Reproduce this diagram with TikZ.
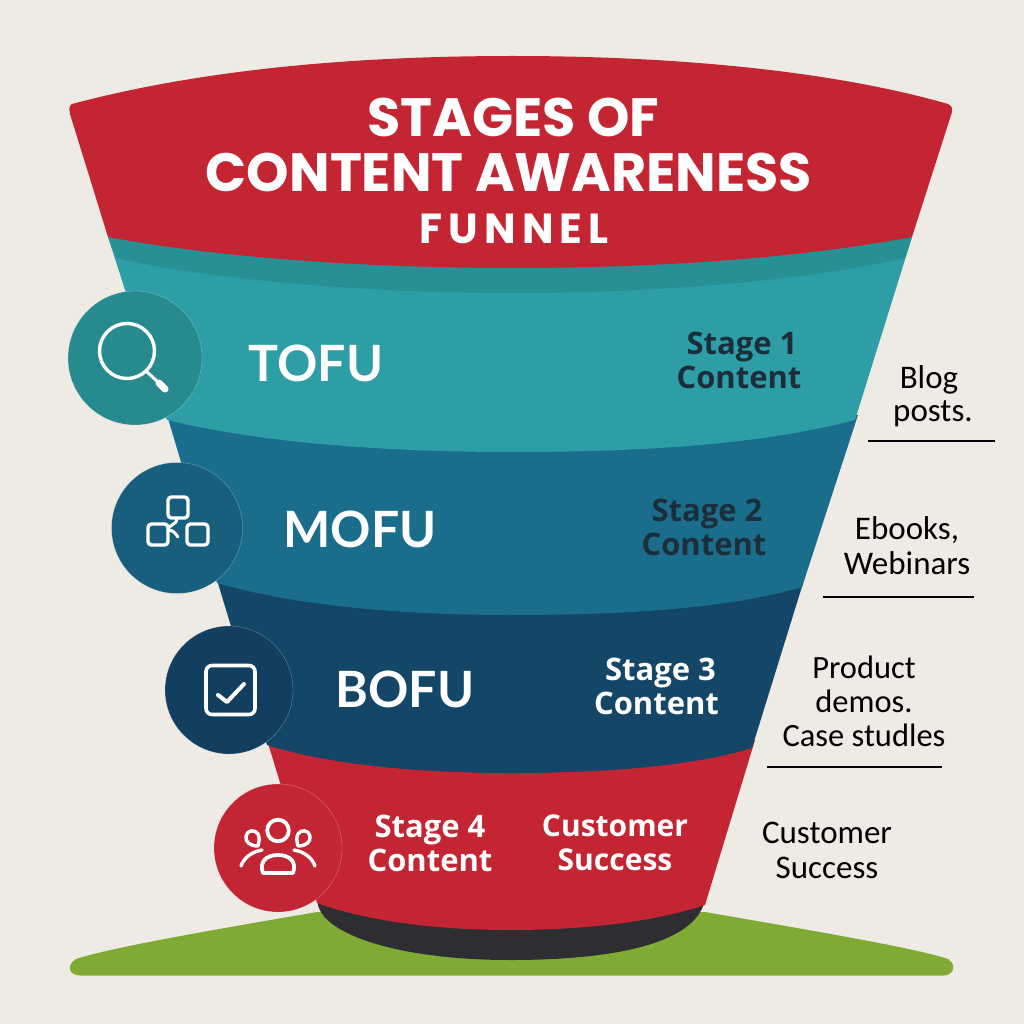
\documentclass[tikz,border=0pt]{standalone}
\usepackage{fontspec}
\setmainfont{Lato}
\newfontfamily\headfont{Lato}
\newfontfamily\titlefont{Poppins}
\newfontfamily\funnelfont[LetterSpace=15]{Poppins}
\newfontfamily\stagefont{Open Sans}
\newfontfamily\notefont{Carlito}
\definecolor{paper}{HTML}{EEEAE4}
\definecolor{redmain}{HTML}{C42533}
\definecolor{tealmain}{HTML}{2D9DA6}
\definecolor{tealdark}{HTML}{269094}
\definecolor{tealcirc}{HTML}{268A8F}
\definecolor{mofumain}{HTML}{1B6E8B}
\definecolor{mofucirc}{HTML}{185F7E}
\definecolor{bofumain}{HTML}{144767}
\definecolor{bofucirc}{HTML}{123E60}
\definecolor{redcirc}{HTML}{C22634}
\definecolor{basedark}{HTML}{2E2E32}
\definecolor{grass}{HTML}{7FAB35}
\definecolor{inktext}{HTML}{1B2E3A}
\tikzset{
  titletext/.style={text=white,align=center,inner sep=0pt},
  fofutext/.style={text=white,font=\headfont\bfseries\fontsize{50}{50}\selectfont,inner sep=0pt},
  stagetext/.style={font=\stagefont\bfseries\fontsize{31}{34}\selectfont,align=center,inner sep=0pt},
  notetext/.style={text=black,font=\notefont\fontsize{33}{35}\selectfont,align=center,inner sep=0pt},
  noterule/.style={draw=black,line width=1.4pt},
  badge/.style={circle,minimum size=#1,inner sep=0pt,draw=white,draw opacity=.35,line width=.4pt},
  icon/.style={draw=white,line width=3.4pt,line cap=round,line join=round},
}
\begin{document}
\begin{tikzpicture}[x=1pt,y=-1pt]
\useasboundingbox (0,0) rectangle (1024,1024);
\fill[paper] (0,0) rectangle (1024,1024);
% ground
\fill[grass] (80,975.5) .. controls (70,975.5) and (65,966) .. (76,959) .. controls (110,948) and (200,932) .. (317,912) -- (705,912) .. controls (820,932) and (915,948) .. (948,959) .. controls (958,966) and (952,975.5) .. (944,975.5) -- cycle;
% base and funnel layers, bottom up
\fill[basedark] (317,900) -- (318,905) .. controls (325,935) and (400,960) .. (510,960) .. controls (610,960) and (695,945) .. (705,900) -- cycle;
\fill[redmain] (267,740) -- (317,903) .. controls (370,922) and (440,930) .. (510,930) .. controls (580,930) and (650,923) .. (705,905) -- (755,740) -- cycle;
\fill[bofumain] (217,580) -- (267,745) .. controls (330,765) and (420,773) .. (510,773) .. controls (600,773) and (690,767) .. (752,748) -- (804,580) -- cycle;
\fill[mofumain] (167,415) -- (217,583) .. controls (300,607) and (410,615) .. (510,615) .. controls (630,615) and (730,608) .. (802,587) -- (858,415) -- cycle;
\fill[tealmain] (108,237) -- (167,420) .. controls (270,445) and (400,452) .. (513,452) .. controls (640,452) and (760,445) .. (855,420) -- (912,237) -- cycle;
\fill[tealdark] (108,237) -- (117,258) .. controls (210,280) and (370,293) .. (513,293) .. controls (660,293) and (810,280) .. (905,258) -- (912,237) -- cycle;
\fill[redmain] (72,104) .. controls (200,70) and (350,56) .. (513,56) .. controls (670,56) and (830,70) .. (948,104) .. controls (952,106) and (953,109) .. (952,112) -- (912,237) .. controls (800,258) and (660,268) .. (513,268) .. controls (370,268) and (220,258) .. (108,237) -- (70,114) .. controls (69,109) and (69,106) .. (72,104) -- cycle;
% badges
\node[badge=134pt,fill=tealcirc] (tofubadge) at (135,358) {};
\node[badge=131pt,fill=mofucirc] (mofubadge) at (177,528) {};
\node[badge=128pt,fill=bofucirc] (bofubadge) at (229,690) {};
\node[badge=128pt,fill=redcirc] (stagebadge) at (278,848) {};
% magnifier
\draw[icon] (127,351) circle (27.5);
\draw[icon,line width=3pt] (147,372) -- (158,382);
\draw[icon,line width=7pt] (159,383) -- (165,389);
% network
\draw[icon,rounded corners=3.5pt] (168,497) rectangle (188,518);
\draw[icon,rounded corners=3.5pt] (148,524) rectangle (168,545);
\draw[icon,rounded corners=3.5pt] (187,524) rectangle (208,545);
\draw[icon,line width=3pt] (177,518) -- (176,522) -- (168,528);
\draw[icon,line width=3pt] (168,530) .. controls (173,530) and (175,533) .. (178,537);
% check box
\draw[icon,line width=3.6pt,rounded corners=6pt] (206,665.5) rectangle (255,714.5);
\draw[icon,line width=4pt] (218,695) -- (227,702) -- (244,684);
% people
\draw[icon,line width=3.8pt] (278,830.5) circle (10.8);
\draw[icon,line width=3.8pt] (263,873) .. controls (259,862) and (266,855) .. (278,855) .. controls (290,855) and (297,862) .. (293,873) -- cycle;
\draw[icon] (258,846) .. controls (250,846) and (245,842) .. (246,836) .. controls (247,830) and (255,829) .. (258,834) .. controls (260,838) and (259,842) .. (258,846);
\draw[icon] (262,850) .. controls (251,852) and (244,858) .. (241,866);
\draw[icon] (298,846) .. controls (306,846) and (311,842) .. (310,836) .. controls (309,830) and (301,829) .. (298,834) .. controls (296,838) and (297,842) .. (298,846);
\draw[icon] (294,850) .. controls (305,852) and (312,858) .. (315,866);
% title
\node[titletext,font=\titlefont\bfseries\fontsize{54}{54}\selectfont] (title1) at (513.5,117) {STAGES OF};
\node[titletext,font=\titlefont\bfseries\fontsize{54}{54}\selectfont] (title2) at (509,172) {CONTENT AWARENESS};
\node[titletext,font=\funnelfont\bfseries\fontsize{42}{42}\selectfont] (title3) at (514,229) {FUNNEL};
% band names
\node[fofutext] (tofu) at (316,363) {TOFU};
\node[fofutext] (mofu) at (360,529) {MOFU};
\node[fofutext] (bofu) at (405,689) {BOFU};
% stage labels
\node[stagetext,text=inktext] (stage1) at (739,360) {\hspace*{6pt}Stage 1\\Content};
\node[stagetext,text=inktext] (stage2) at (704,527) {\hspace*{6pt}Stage 2\\Content};
\node[stagetext,text=white] (stage3) at (656.5,686) {\hspace*{8pt}Stage 3\\Content};
\node[stagetext,text=white] (stage4) at (430,843) {Stage 4\\Content};
\node[stagetext,text=white,font=\stagefont\bfseries\fontsize{30}{34}\selectfont] (success) at (615,843) {Customer\\Success};
% side notes
\node[notetext,font=\notefont\fontsize{33}{33}\selectfont] (note1) at (933,396.5) {Blog\hspace*{8pt}\\posts.};
\node[notetext] (note2) at (907,546) {Ebooks,\\Webinars};
\node[notetext,font=\notefont\fontsize{32.5}{34}\selectfont] (note3) at (864,701) {Product\\demos.\\Case studles};
\node[notetext] (note4) at (827,850) {Customer\\Success};
\coordinate (r1a) at (868,441); \coordinate (r1b) at (995,441);
\coordinate (r2a) at (823,597); \coordinate (r2b) at (974,597);
\coordinate (r3a) at (767,767); \coordinate (r3b) at (942,767);
\draw[noterule] (r1a) -- (r1b);
\draw[noterule] (r2a) -- (r2b);
\draw[noterule] (r3a) -- (r3b);
\end{tikzpicture}
\end{document}
